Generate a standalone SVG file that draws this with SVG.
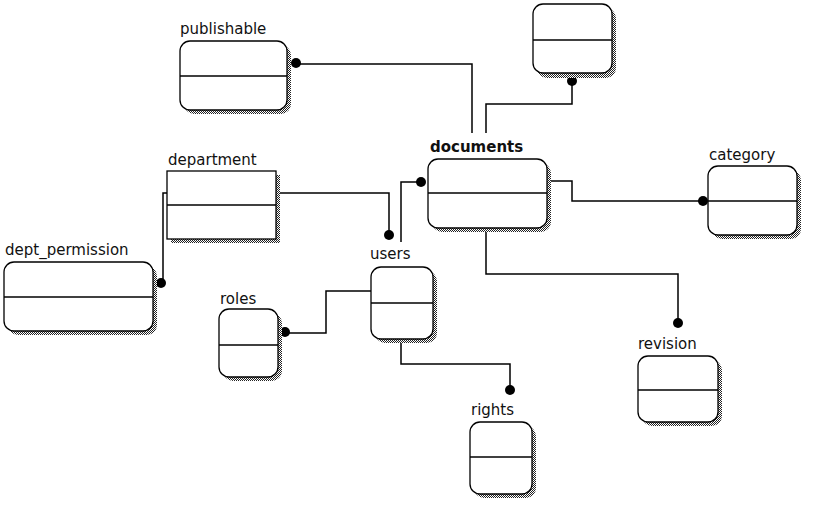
<svg xmlns="http://www.w3.org/2000/svg" width="816" height="513" viewBox="0 0 816 513">
<defs>
<pattern id="dots" patternUnits="userSpaceOnUse" width="2" height="2">
<rect width="2" height="2" fill="#fff"/>
<rect width="1" height="1" fill="#222"/>
<rect x="1" y="1" width="1" height="1" fill="#222"/>
</pattern>
</defs>
<style>
.sh{fill:url(#dots);stroke:none}
.bx{fill:#fff;stroke:#000;stroke-width:1.3}
.dv{stroke:#000;stroke-width:1.3}
.lb{font-family:"DejaVu Sans",sans-serif;font-size:15px;fill:#111}
.bd{font-weight:bold}
.cn{fill:none;stroke:#000;stroke-width:1.5}
.dt{fill:#000}
</style>
<rect width="816" height="513" fill="#fff"/>
<g id="connectors">
<polyline class="cn" points="296,64 472,64 472,133"/>
<polyline class="cn" points="572,82 572,104 486,104 486,133"/>
<polyline class="cn" points="421,182 401,182 401,242"/>
<polyline class="cn" points="276,193 389,193 389,235"/>
<polyline class="cn" points="167,193 163,193 163,283"/>
<polyline class="cn" points="371,291 326,291 326,333 284,333"/>
<polyline class="cn" points="401,339 401,364 510,364 510,390"/>
<polyline class="cn" points="486,228 486,274 678,274 678,323"/>
<polyline class="cn" points="547,181 572,181 572,201 702,201"/>
<circle class="dt" cx="296" cy="63" r="5"/>
<circle class="dt" cx="572" cy="81" r="5"/>
<circle class="dt" cx="421" cy="182" r="5"/>
<circle class="dt" cx="389" cy="235" r="5"/>
<circle class="dt" cx="161" cy="283" r="5"/>
<circle class="dt" cx="285" cy="332" r="5"/>
<circle class="dt" cx="510" cy="390" r="5"/>
<circle class="dt" cx="678" cy="323" r="5"/>
<circle class="dt" cx="703" cy="201" r="5"/>
</g>
<g id="publishable">
<rect class="sh" x="184" y="45" width="107" height="69" rx="10"/>
<rect class="bx" x="180" y="41" width="107" height="69" rx="10"/>
<line class="dv" x1="180" y1="76" x2="287" y2="76"/>
<text class="lb" x="180" y="34">publishable</text>
</g>
<g id="unnamed">
<rect class="sh" x="537" y="8" width="79" height="70" rx="10"/>
<rect class="bx" x="533" y="4" width="79" height="69" rx="10"/>
<line class="dv" x1="533" y1="40" x2="612" y2="40"/>
</g>
<g id="documents">
<rect class="sh" x="432" y="163" width="119" height="69" rx="10"/>
<rect class="bx" x="428" y="159" width="119" height="69" rx="10"/>
<line class="dv" x1="428" y1="193" x2="547" y2="193"/>
<text class="lb bd" x="430" y="152">documents</text>
</g>
<g id="department">
<rect class="sh" x="171" y="175" width="109" height="68"/>
<rect class="bx" x="167" y="171" width="109" height="68"/>
<line class="dv" x1="167" y1="205" x2="276" y2="205"/>
<text class="lb" x="168" y="165">department</text>
</g>
<g id="dept_permission">
<rect class="sh" x="8" y="266" width="149" height="69" rx="10"/>
<rect class="bx" x="4" y="262" width="149" height="69" rx="10"/>
<line class="dv" x1="4" y1="297" x2="153" y2="297"/>
<text class="lb" x="5" y="255">dept_permission</text>
</g>
<g id="category">
<rect class="sh" x="712" y="170" width="89" height="69" rx="10"/>
<rect class="bx" x="708" y="166" width="89" height="69" rx="10"/>
<line class="dv" x1="708" y1="201" x2="797" y2="201"/>
<text class="lb" x="709" y="160">category</text>
</g>
<g id="users">
<rect class="sh" x="375" y="271" width="62" height="72" rx="10"/>
<rect class="bx" x="371" y="267" width="62" height="72" rx="10"/>
<line class="dv" x1="371" y1="303" x2="433" y2="303"/>
<text class="lb" x="370" y="259">users</text>
</g>
<g id="roles">
<rect class="sh" x="223" y="313" width="59" height="68" rx="10"/>
<rect class="bx" x="219" y="309" width="59" height="68" rx="10"/>
<line class="dv" x1="219" y1="345" x2="278" y2="345"/>
<text class="lb" x="220" y="304">roles</text>
</g>
<g id="rights">
<rect class="sh" x="474" y="426" width="62" height="72" rx="10"/>
<rect class="bx" x="470" y="422" width="62" height="72" rx="10"/>
<line class="dv" x1="470" y1="457" x2="532" y2="457"/>
<text class="lb" x="471" y="415">rights</text>
</g>
<g id="revision">
<rect class="sh" x="642" y="360" width="80" height="66" rx="10"/>
<rect class="bx" x="638" y="356" width="80" height="66" rx="10"/>
<line class="dv" x1="638" y1="390" x2="718" y2="390"/>
<text class="lb" x="638" y="349">revision</text>
</g>
</svg>
